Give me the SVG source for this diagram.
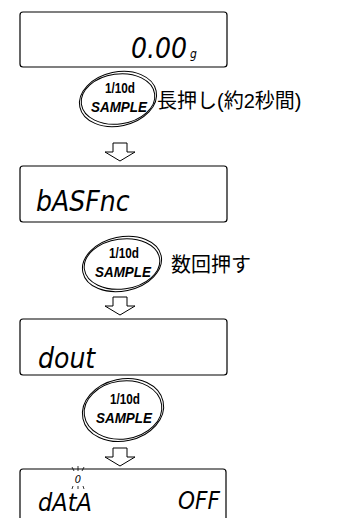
<svg xmlns="http://www.w3.org/2000/svg" width="338" height="518" viewBox="0 0 338 518">
<style>
.box{fill:#fff;stroke:#000;stroke-width:1.2}
.seg{font-family:"DejaVu Sans Condensed","DejaVu Sans",sans-serif;font-style:italic;fill:#000}
.key1{font-family:"Liberation Sans",Arial,sans-serif;font-weight:bold;font-size:14px;fill:#000;text-anchor:middle}
.key2{font-family:"Liberation Sans",Arial,sans-serif;font-weight:bold;font-style:italic;font-size:15px;fill:#000;text-anchor:middle}
.jp{font-family:"Liberation Sans","Noto Sans CJK JP",sans-serif;font-size:20px;fill:#000}
.el{fill:none;stroke:#000;stroke-width:1}
.arr{fill:#fff;stroke:#000;stroke-width:1}
</style>
<rect width="338" height="518" fill="#fff"/>
<g id="display1">
<rect class="box" x="20" y="12" width="207" height="55" rx="3"/>
<text class="seg" x="187" y="58" font-size="28" text-anchor="end">0.00</text>
<text class="seg" x="190" y="58" font-size="12">g</text>
</g>
<g id="button1">
<ellipse class="el" cx="118" cy="99" rx="39" ry="27" transform="rotate(-12 118 99)"/>
<ellipse class="el" cx="118" cy="99" rx="37" ry="25" transform="rotate(-8 118 99)"/>
<text class="key1" x="120" y="93" textLength="30" lengthAdjust="spacingAndGlyphs">1/10d</text>
<text class="key2" x="119" y="112" textLength="56" lengthAdjust="spacingAndGlyphs">SAMPLE</text>
<text class="jp" x="157" y="108">長押し(約2秒間)</text>
</g>
<g id="display2">
<rect class="box" x="20" y="166" width="207" height="56" rx="3"/>
<text class="seg" x="36" y="211" font-size="28">bASFnc</text>
</g>
<g id="button2">
<ellipse class="el" cx="122" cy="264" rx="40" ry="27" transform="rotate(-12 122 264)"/>
<ellipse class="el" cx="122" cy="264" rx="38" ry="25" transform="rotate(-8 122 264)"/>
<text class="key1" x="124" y="258" textLength="30" lengthAdjust="spacingAndGlyphs">1/10d</text>
<text class="key2" x="123" y="277" textLength="56" lengthAdjust="spacingAndGlyphs">SAMPLE</text>
<text class="jp" x="171" y="272">数回押す</text>
</g>
<g id="display3">
<rect class="box" x="20" y="319" width="207" height="56" rx="3"/>
<text class="seg" x="38" y="368" font-size="28">dout</text>
</g>
<g id="button3">
<ellipse class="el" cx="123" cy="410" rx="41" ry="31" transform="rotate(-12 123 410)"/>
<ellipse class="el" cx="123" cy="410" rx="39" ry="29" transform="rotate(-8 123 410)"/>
<text class="key1" x="125" y="404" textLength="30" lengthAdjust="spacingAndGlyphs">1/10d</text>
<text class="key2" x="124" y="423" textLength="56" lengthAdjust="spacingAndGlyphs">SAMPLE</text>
</g>
<g id="display4">
<rect class="box" x="20" y="469" width="206" height="60" rx="3"/>
<text class="seg" x="78" y="483" font-size="11" text-anchor="middle">0</text>
<text class="seg" x="38" y="511" font-size="25">dAtA</text>
<text class="seg" x="178" y="509" font-size="24">OFF</text>
</g>
<g id="connectors">
<path class="arr" d="M113 143 H127 V152 H135 L120 161 L105 152 H113 Z"/>
<path class="arr" d="M113 297 H127 V306 H135 L120 315 L105 306 H113 Z"/>
<path class="arr" d="M113 448 H127 V457 H135 L120 466 L105 457 H113 Z"/>
</g>
<g id="blink" stroke="#000" stroke-width="0.8">
<line x1="78" y1="466" x2="78" y2="471"/>
<line x1="72" y1="467" x2="74" y2="471"/>
<line x1="84" y1="467" x2="82" y2="471"/>
<line x1="78" y1="486" x2="78" y2="489"/>
<line x1="73" y1="486" x2="72" y2="489"/>
<line x1="83" y1="486" x2="84" y2="489"/>
</g>
</svg>
